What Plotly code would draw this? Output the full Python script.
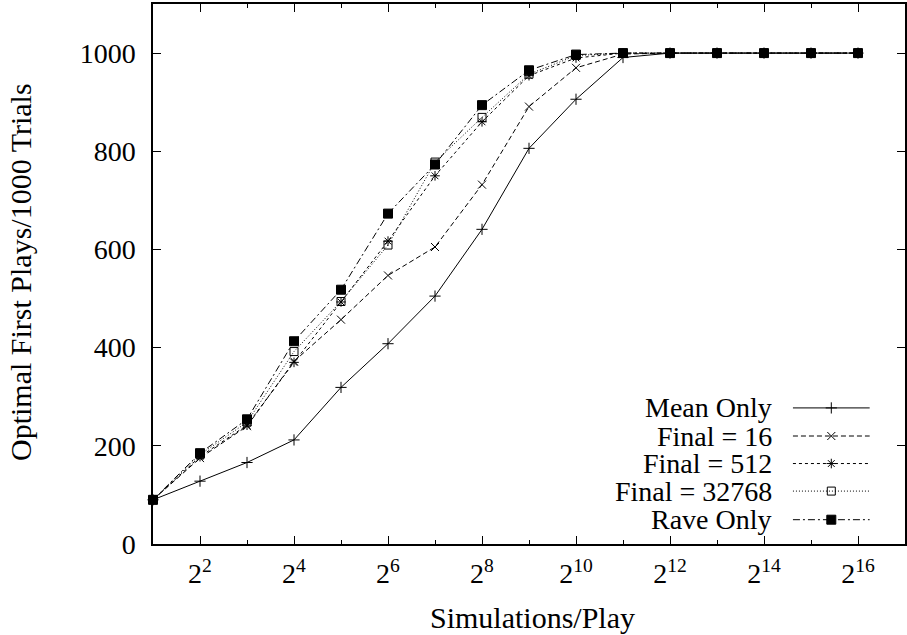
import plotly.graph_objects as go

# exponents of 2 (Simulations/Play = 2**n)
exponents = list(range(1, 17))
mean_only = [90, 128, 166, 212, 319, 408, 505, 641, 806, 906, 991, 1000, 1000, 1000, 1000, 1000]
final_16 = [90, 175, 240, 372, 457, 547, 605, 732, 891, 970, 998, 1000, 1000, 1000, 1000, 1000]
final_512 = [90, 178, 242, 370, 493, 617, 750, 860, 954, 990, 1000, 1000, 1000, 1000, 1000, 1000]
final_32768 = [90, 182, 248, 392, 494, 609, 778, 869, 957, 995, 1000, 1000, 1000, 1000, 1000, 1000]
rave_only = [90, 185, 254, 413, 518, 673, 773, 894, 965, 997, 1000, 1000, 1000, 1000, 1000, 1000]

series_names = ["Mean Only", "Final = 16", "Final = 512", "Final = 32768", "Rave Only"]
series_values = [mean_only, final_16, final_512, final_32768, rave_only]
x_tick_exps = [2, 4, 6, 8, 10, 12, 14, 16]
x_tick_text = [f"2<sup>{e}</sup>" for e in x_tick_exps]
y_ticks = [0, 200, 400, 600, 800, 1000]

dashes = ["solid", "5px,3px", "3px,3px", "1px,2px", "7px,3px,2px,3px"]
symbols = ["cross-thin", "x-thin", "asterisk", "square-open", "square"]
sizes = [8, 8, 8, 8, 9]

FONT = "Liberation Serif, Times New Roman, serif"
FS = 28
FS_TITLE = 30

fig = go.Figure()
for name, vals, d, s, sz in zip(series_names, series_values, dashes, symbols, sizes):
    fig.add_trace(go.Scatter(
        x=exponents, y=vals, mode="lines+markers", name=name,
        line=dict(color="black", width=1, dash=d),
        marker=dict(symbol=s, size=sz, color="black", line=dict(color="black", width=1)),
        cliponaxis=False, showlegend=False,
    ))

# custom legend (text right-aligned, sample on the right)
leg_y = [0.252, 0.200, 0.149, 0.098, 0.045]
for name, d, s, sz, yy in zip(series_names, dashes, symbols, sizes, leg_y):
    fig.add_trace(go.Scatter(
        x=[0.851, 0.953], y=[yy, yy], xaxis="x2", yaxis="y2", mode="lines",
        line=dict(color="black", width=1, dash=d), showlegend=False, hoverinfo="skip",
        cliponaxis=False,
    ))
    fig.add_trace(go.Scatter(
        x=[0.902], y=[yy], xaxis="x2", yaxis="y2", mode="markers",
        marker=dict(symbol=s, size=sz, color="black", line=dict(color="black", width=1)),
        showlegend=False, hoverinfo="skip", cliponaxis=False,
    ))
    fig.add_annotation(x=0.826, y=yy, xref="x2", yref="y2", text=name, showarrow=False,
                       xanchor="right", yanchor="middle",
                       font=dict(family=FONT, size=FS, color="black"))

fig.add_annotation(x=-0.177, y=0.5035, xref="paper", yref="paper",
                   text="Optimal First Plays/1000 Trials",
                   textangle=-90, showarrow=False, xanchor="center", yanchor="middle",
                   font=dict(family=FONT, size=FS_TITLE, color="black"))
fig.add_annotation(x=0.505, y=-0.136, xref="paper", yref="paper", text="Simulations/Play",
                   showarrow=False, xanchor="center", yanchor="middle",
                   font=dict(family=FONT, size=FS_TITLE, color="black"))

axis_common = dict(showline=True, linecolor="black", linewidth=1.5, mirror="ticks",
                   ticks="inside", tickcolor="black", tickwidth=1, showgrid=False, zeroline=False,
                   automargin=False,
                   tickfont=dict(family=FONT, size=FS, color="black"))

fig.update_layout(
    width=907, height=635,
    margin=dict(l=153, r=2, t=4, b=91),
    paper_bgcolor="white", plot_bgcolor="white",
    font=dict(family=FONT, size=FS, color="black"),
    xaxis=dict(range=[1, 17], tickmode="array", tickvals=x_tick_exps, ticktext=x_tick_text,
               ticklen=8, ticklabelstandoff=4,
               minor=dict(ticks="inside", ticklen=4, tickmode="array",
                          tickvals=[3, 5, 7, 9, 11, 13, 15], tickcolor="black"),
               **axis_common),
    yaxis=dict(range=[0, 1100], tickmode="array", tickvals=y_ticks, ticklen=8,
               ticklabelstandoff=10, **axis_common),
    xaxis2=dict(range=[0, 1], overlaying="x", visible=False),
    yaxis2=dict(range=[0, 1], overlaying="y", visible=False),
)

fig.write_html("out.html", config={"displayModeBar": False},
               post_script="document.body.style.margin='0';document.body.style.overflow='hidden';")
